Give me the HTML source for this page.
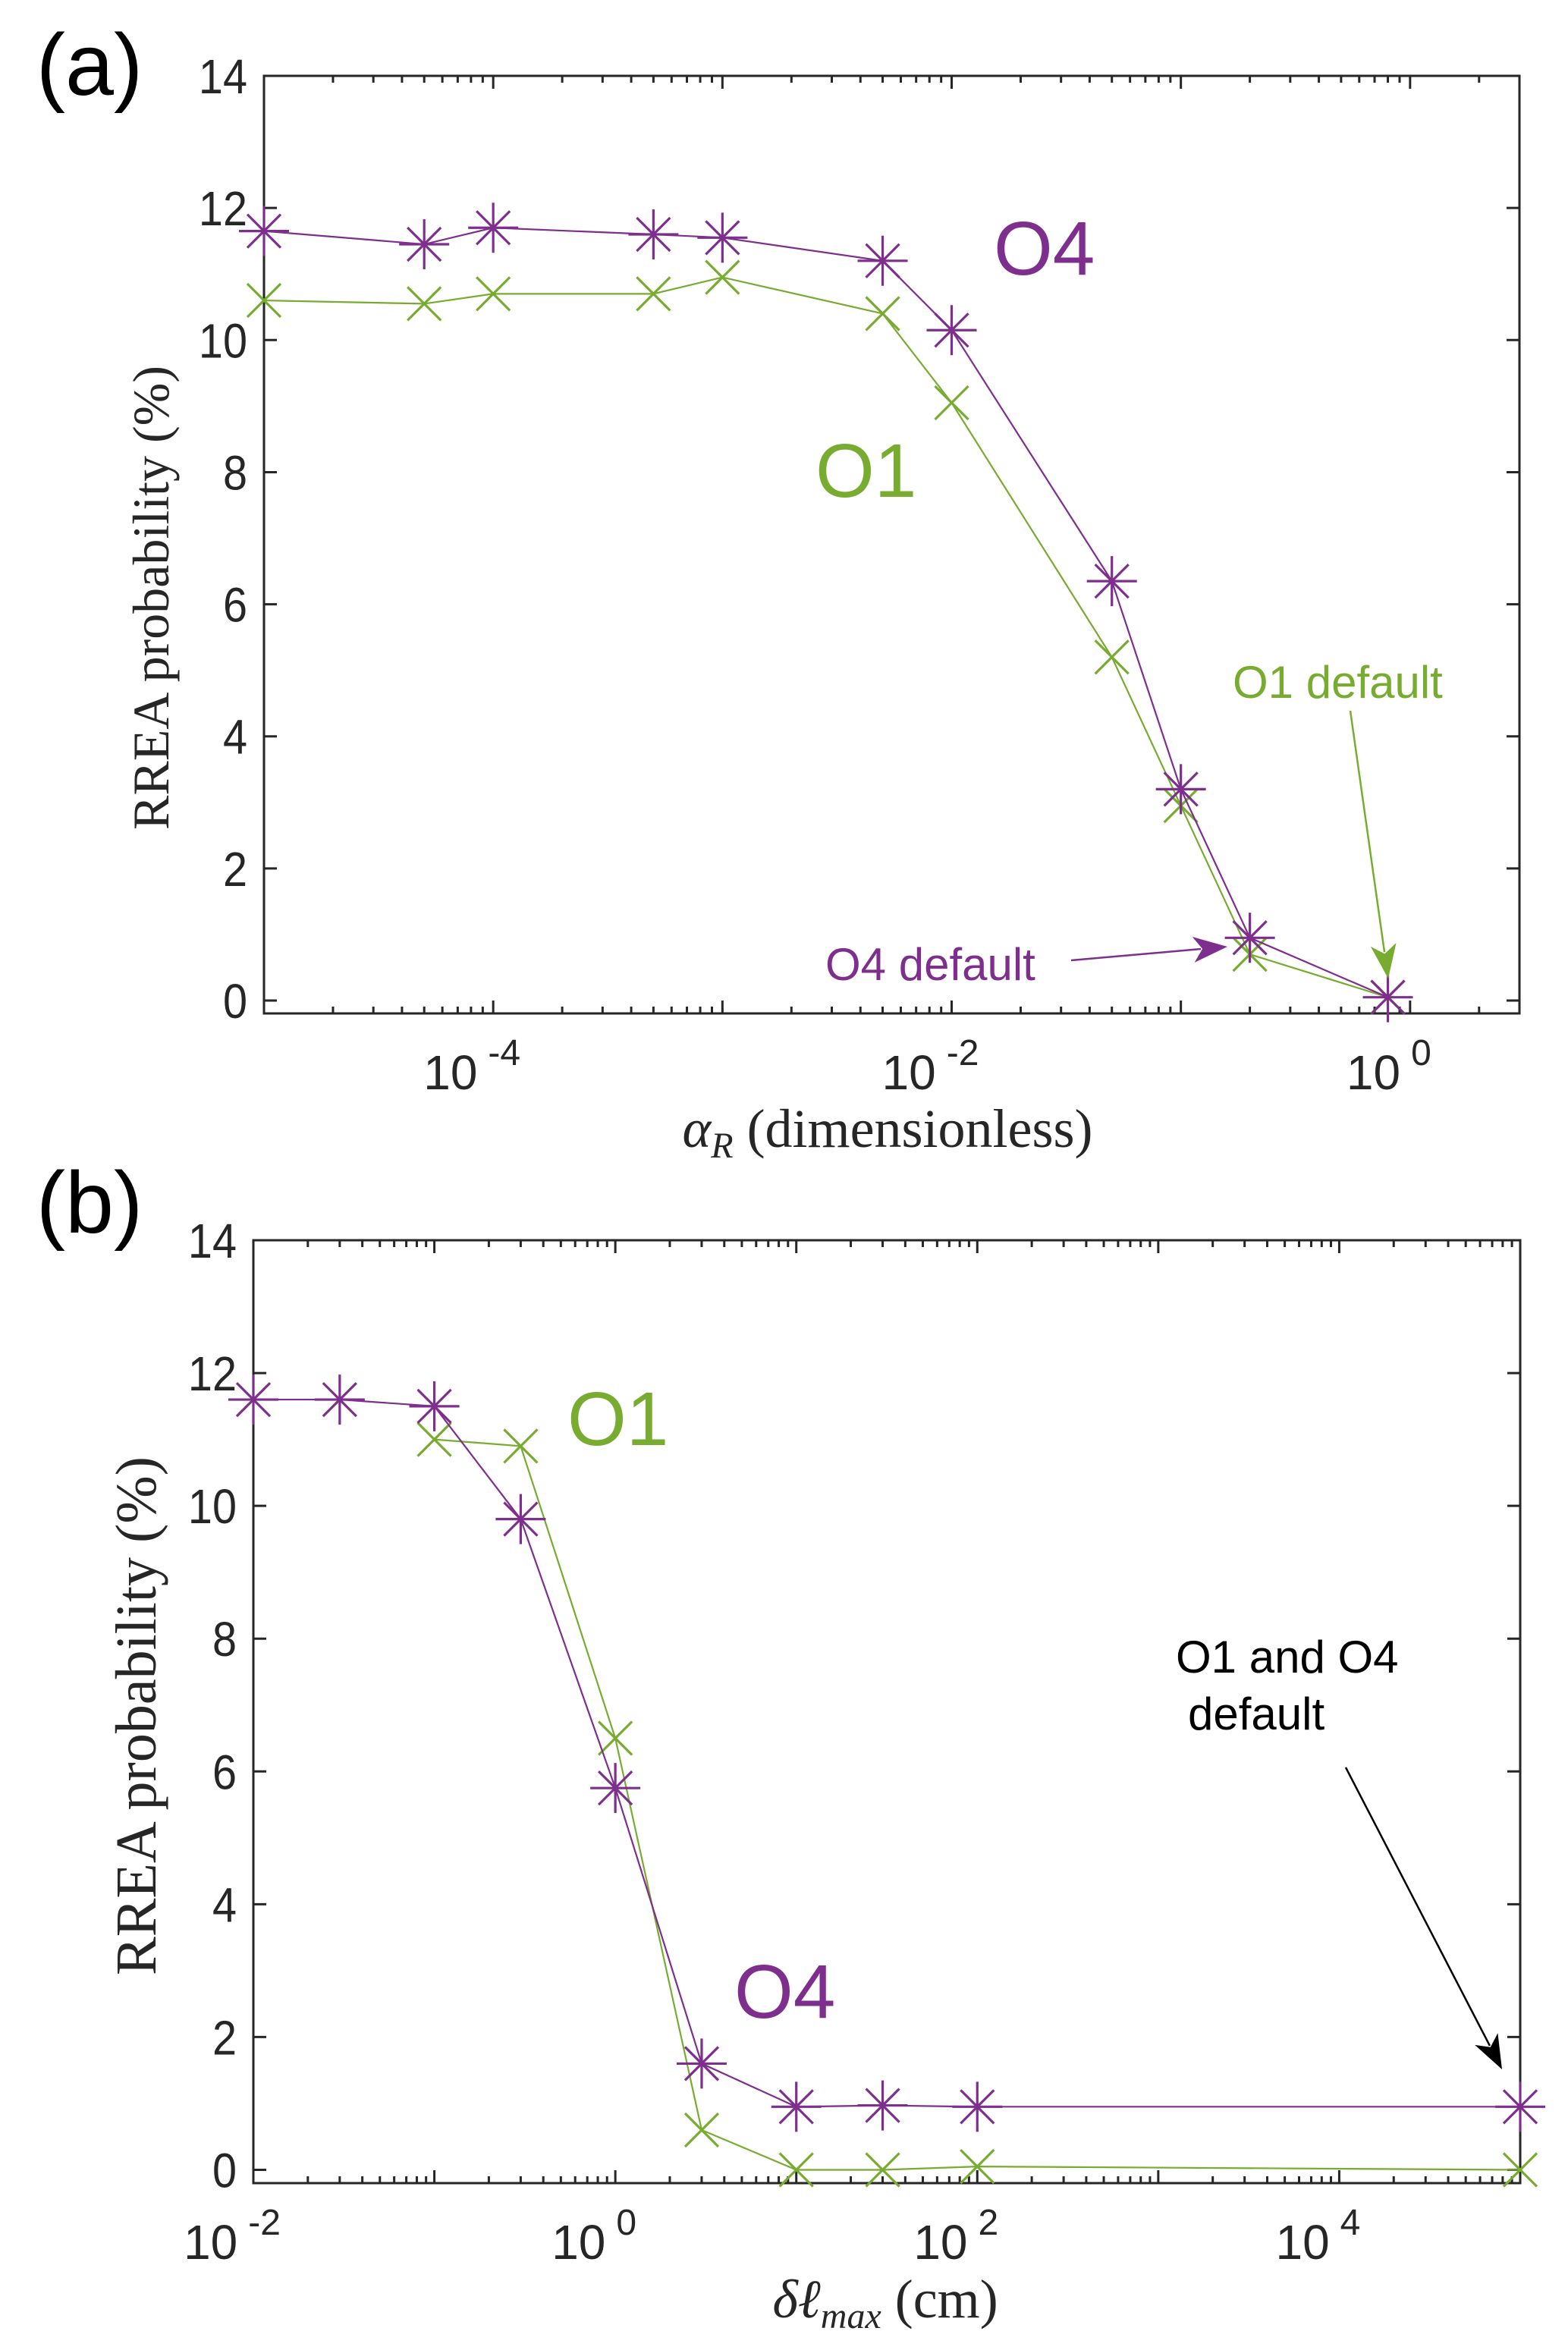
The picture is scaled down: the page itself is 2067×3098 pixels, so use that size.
<!DOCTYPE html>
<html><head><meta charset="utf-8"><style>
html,body{margin:0;padding:0;background:#fff;}
svg{display:block;}
text{font-family:"Liberation Sans",sans-serif;}
.tick{font-size:64px;fill:#262626;}
.serif{font-family:"Liberation Serif",serif;}
</style></head><body>
<svg id="fig" width="2067" height="3098" viewBox="0 0 2067 3098" xmlns="http://www.w3.org/2000/svg">
<g id="pa"></g>
<g id="pb"></g>
</svg>
<script>
// Panel (a) data
const aX = [1e-5, 5e-5, 1e-4, 5e-4, 1e-3, 5e-3, 1e-2, 5e-2, 1e-1, 2e-1, 0.8];
const aO4 = [11.65, 11.45, 11.7, 11.6, 11.55, 11.2, 10.15, 6.35, 3.2, 0.95, 0.05];
const aO1 = [10.6, 10.55, 10.7, 10.7, 10.95, 10.4, 9.05, 5.2, 2.95, 0.7, 0.05];
const aXTicks = [-4, -2, 0];
// Panel (b) data
const bX4 = [0.01, 0.03, 0.1, 0.3, 1, 3, 10, 30, 100, 1e5];
const bO4 = [11.6, 11.6, 11.5, 9.8, 5.75, 1.6, 0.95, 0.97, 0.95, 0.95];
const bX1 = [0.1, 0.3, 1, 3, 10, 30, 100, 1e5];
const bO1 = [11.0, 10.9, 6.5, 0.6, 0.0, 0.0, 0.05, 0.0];
const bXTicks = [-2, 0, 2, 4];
const yTicks = [0, 2, 4, 6, 8, 10, 12, 14];

const NS = "http://www.w3.org/2000/svg";
const PUR = "#7E2F8E", GRN = "#77AC30";
function mk(parent, tag, attrs, txt){
  const e = document.createElementNS(NS, tag);
  for (const k in attrs) e.setAttribute(k, attrs[k]);
  if (txt !== undefined) e.textContent = txt;
  parent.appendChild(e); return e;
}

function panel(g, box, xlim, ylim, xTicks){
  const [L,R,T,B] = box;
  const lx0 = Math.log10(xlim[0]), lx1 = Math.log10(xlim[1]);
  const sx = v => L + (Math.log10(v) - lx0) / (lx1 - lx0) * (R - L);
  const sy = v => B - (v - ylim[0]) / (ylim[1] - ylim[0]) * (B - T);
  const frame = mk(g, "rect", {x:L, y:T, width:R-L, height:B-T, fill:"none", stroke:"#262626", "stroke-width":3});
  
  
  yTicks.forEach(v => {
    const y = sy(v);
    mk(g, "line", {x1:L, x2:L+17, y1:y, y2:y, stroke:"#262626", "stroke-width":3});
    mk(g, "line", {x1:R, x2:R-17, y1:y, y2:y, stroke:"#262626", "stroke-width":3});
    const t = mk(g, "text", {x:L-22, y:y+23, "text-anchor":"end", class:"tick", transform:`translate(${(L-22)*0.1},0) scale(0.9,1)`}, String(v));
    
    
  });
  for (let d = Math.floor(lx0); d <= Math.ceil(lx1); d++) {
    for (let m = 1; m <= 9; m++) {
      const v = m * Math.pow(10, d);
      const lv = Math.log10(v);
      if (lv < lx0 - 1e-9 || lv > lx1 + 1e-9) continue;
      const x = sx(v), len = m === 1 ? 17 : 9;
      mk(g, "line", {x1:x, x2:x, y1:B, y2:B-len, stroke:"#262626", "stroke-width":3});
      mk(g, "line", {x1:x, x2:x, y1:T, y2:T+len, stroke:"#262626", "stroke-width":3});
    }
  }
  xTicks.forEach(p => {
    const x = sx(Math.pow(10, p));
    const t = mk(g, "text", {x:x-28, y:B+100, "text-anchor":"middle", class:"tick"});
    
    
    mk(t, "tspan", {}, "10");
    mk(t, "tspan", {dx:14, dy:-32, "font-size":48}, String(p));
  });
  return {sx, sy};
}

function series(g, xs, ys, s, color, kind, name){
  const sg = mk(g, "g", {});
  
  
  const pts = xs.map((x,i) => s.sx(x) + "," + s.sy(ys[i])).join(" ");
  mk(sg, "polyline", {points:pts, fill:"none", stroke:color, "stroke-width":2.2});
  xs.forEach((x,i) => {
    const cx = s.sx(x), cy = s.sy(ys[i]);
    let d;
    if (kind === "ast") {
      const h = 33, k = 22;
      d = `M${cx-h},${cy}H${cx+h}M${cx},${cy-h}V${cy+h}M${cx-k},${cy-k}L${cx+k},${cy+k}M${cx-k},${cy+k}L${cx+k},${cy-k}`;
    } else {
      const k = 22;
      d = `M${cx-k},${cy-k}L${cx+k},${cy+k}M${cx-k},${cy+k}L${cx+k},${cy-k}`;
    }
    const m = mk(sg, "path", {d, stroke:color, "stroke-width":3.2, fill:"none"});
    
    
  });
}

function arrow(g, x1, y1, x2, y2, color, name){
  const ag = mk(g, "g", {});
  
  
  const dx = x2-x1, dy = y2-y1, L = Math.hypot(dx,dy), ux = dx/L, uy = dy/L;
  const hl = 45, hw = 17;
  const bx = x2 - ux*hl, by = y2 - uy*hl;
  mk(ag, "line", {x1, y1, x2:bx+ux*10, y2:by+uy*10, stroke:color, "stroke-width":2.5});
  const p = `${x2},${y2} ${bx - uy*hw},${by + ux*hw} ${bx+ux*12},${by+uy*12} ${bx + uy*hw},${by - ux*hw}`;
  mk(ag, "polygon", {points:p, fill:color});
}

function label(g, x, y, txt, size, color, name, anchor, cls){
  const t = mk(g, "text", {x, y, "font-size":size, fill:color, "text-anchor":anchor||"start"}, txt);
  if (cls) t.setAttribute("class", cls);
  
  
  return t;
}

// ---- Panel a
const ga = document.getElementById("pa");
const sa = panel(ga, [348, 2003, 100, 1336], [1e-5, 3], [-0.195, 14], aXTicks);
series(ga, aX, aO1, sa, GRN, "x", "series-o1");
series(ga, aX, aO4, sa, PUR, "ast", "series-o4");
label(ga, 118, 125, "(a)", 115, "#000", "panel-a-label", "middle");
label(ga, 1310, 362, "O4", 100, PUR, "label-o4");
label(ga, 1075, 655, "O1", 100, GRN, "label-o1");
label(ga, 1625, 920, "O1 default", 60, GRN, "label-o1-default");
label(ga, 1088, 1292, "O4 default", 60, PUR, "label-o4-default");
arrow(ga, 1780, 937, 1830, 1290, GRN, "arrow-o1-default");
arrow(ga, 1412, 1266, 1618, 1248, PUR, "arrow-o4-default");
const ya = label(ga, 0, 0, "RREA probability (%)", 68, "#262626", "y-axis-title", "middle", "serif");
ya.setAttribute("transform", "translate(222,788) rotate(-90)");
const xa = label(ga, 1170, 1512, "", 72, "#262626", "x-axis-title", "middle", "serif");
mk(xa, "tspan", {"font-style":"italic"}, "α");
mk(xa, "tspan", {"font-style":"italic", "font-size":48, dy:14}, "R");
mk(xa, "tspan", {dy:-14}, " (dimensionless)");

// ---- Panel b
const gb = document.getElementById("pb");
const sb = panel(gb, [334, 2004, 1635, 2878], [0.01, 1e5], [-0.2, 14], bXTicks);
series(gb, bX1, bO1, sb, GRN, "x", "series-o1");
series(gb, bX4, bO4, sb, PUR, "ast", "series-o4");
label(gb, 118, 1625, "(b)", 115, "#000", "panel-b-label", "middle");
label(gb, 748, 1905, "O1", 100, GRN, "label-o1");
label(gb, 968, 2660, "O4", 100, PUR, "label-o4");
label(gb, 1550, 2205, "O1 and O4", 60, "#000", "label-default-1");
label(gb, 1566, 2280, "default", 60, "#000", "label-default-2");
arrow(gb, 1774, 2330, 1980, 2728, "#000", "arrow-default");
const yb = label(gb, 0, 0, "RREA probability (%)", 76, "#262626", "y-axis-title", "middle", "serif");
yb.setAttribute("transform", "translate(205,2262) rotate(-90)");
const xb = label(gb, 1167, 3055, "", 72, "#262626", "x-axis-title", "middle", "serif");
mk(xb, "tspan", {"font-style":"italic"}, "δℓ");
mk(xb, "tspan", {"font-style":"italic", "font-size":48, dy:14}, "max");
mk(xb, "tspan", {dy:-14}, " (cm)");
</script>
</body></html>
